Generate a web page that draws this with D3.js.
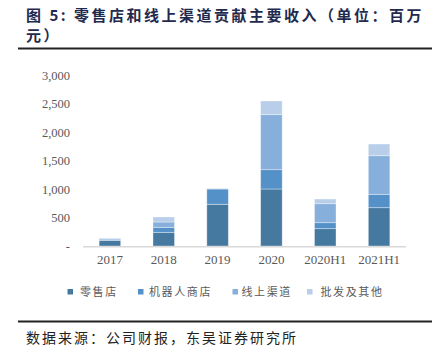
<!DOCTYPE html>
<html><head><meta charset="utf-8">
<script src="https://cdn.jsdelivr.net/npm/d3@7"></script>
<style>body{margin:0;background:#fff;}svg{display:block;}</style>
</head><body>
<svg id="c" width="443" height="362"></svg>
<script>
const categories = ["2017","2018","2019","2020","2020H1","2021H1"];
const seriesNames = ["零售店","机器人商店","线上渠道","批发及其他"];
const retail =    [100, 240, 732, 1000, 304, 672];
const robot =     [5,   88,  268, 339,  105, 235];
const online =    [20,  93,  0,   965,  333, 677];
const wholesale = [15,  88,  10,  240,  82,  205];
const yTicks = [0, 500, 1000, 1500, 2000, 2500, 3000];
const yTickLabels = ["-", "500", "1,000", "1,500", "2,000", "2,500", "3,000"];
const colors = ["#46799f", "#5391c8", "#86afdc", "#b8cee9"];

const svg = d3.select("#c");
const serif = "'Liberation Serif','Times New Roman',serif";
const cjk = "'Noto Sans CJK SC',sans-serif";

// Title
const title = svg.append("text").attr("font-family", cjk).attr("font-weight", "bold")
  .attr("font-size", 15).attr("fill", "#1f2a4f").attr("letter-spacing", 2.5);
title.append("tspan").attr("x", 26).attr("y", 21).text("图 5: 零售店和线上渠道贡献主要收入（单位：百万");
title.append("tspan").attr("x", 26).attr("y", 41).text("元）");
svg.append("line").attr("x1", 18).attr("x2", 432).attr("y1", 48.5).attr("y2", 48.5)
  .attr("stroke", "#222").attr("stroke-width", 2);

const x = d3.scaleBand().domain(categories).range([83, 406]).paddingInner(0.6).paddingOuter(0.3);
const y = d3.scaleLinear().domain([0, 3000]).range([246, 75]);

const rows = categories.map((c, i) => ({cat: c, s0: retail[i], s1: robot[i], s2: online[i], s3: wholesale[i]}));
const stack = d3.stack().keys(["s0","s1","s2","s3"])(rows);

svg.append("g").selectAll("g").data(stack).join("g").attr("fill", (d, i) => colors[i])
  .selectAll("rect").data(d => d).join("rect")
  .attr("x", d => x(d.data.cat)).attr("width", x.bandwidth())
  .attr("y", d => y(d[1])).attr("height", d => Math.max(0, y(d[0]) - y(d[1])))
  .attr("stroke", "rgba(255,255,255,0.45)").attr("stroke-width", 0.8);

// baseline
svg.append("line").attr("x1", 83).attr("x2", 406).attr("y1", 246.8).attr("y2", 246.8)
  .attr("stroke", "#d9d9d9").attr("stroke-width", 1.5);

// y axis labels
const yAxis = d3.axisLeft(y).tickValues(yTicks).tickSize(0).tickPadding(0)
  .tickFormat((d, i) => yTickLabels[i]);
const ga = svg.append("g").attr("transform", "translate(70,0)").call(yAxis);
ga.select(".domain").remove();
ga.selectAll("text").attr("font-family", serif).attr("font-size", 12.5).attr("fill", "#595959");

// x axis labels
const xAxis = d3.axisBottom(x).tickSize(0).tickPadding(0);
const gx = svg.append("g").attr("transform", "translate(0,255)").call(xAxis);
gx.select(".domain").remove();
gx.selectAll("text").attr("font-family", serif).attr("font-size", 13).attr("fill", "#595959");

// legend
const legX = [[67.5, 80], [138, 149], [232.5, 241.5], [307, 320.5]];
const lg = svg.append("g");
seriesNames.forEach((n, i) => {
  lg.append("rect").attr("x", legX[i][0]).attr("y", 289).attr("width", 5.5).attr("height", 5.5).attr("fill", colors[i]);
  lg.append("text").attr("x", legX[i][1]).attr("y", 296).attr("font-family", cjk).attr("font-size", 11)
    .attr("letter-spacing", 1.6).attr("fill", "#595959").text(n);
});

svg.append("line").attr("x1", 18).attr("x2", 432).attr("y1", 321.5).attr("y2", 321.5)
  .attr("stroke", "#222").attr("stroke-width", 2);
svg.append("text").attr("x", 26).attr("y", 343).attr("font-family", cjk).attr("font-size", 14)
  .attr("letter-spacing", 2).attr("fill", "#222").text("数据来源：公司财报，东吴证券研究所");
</script>
</body></html>
